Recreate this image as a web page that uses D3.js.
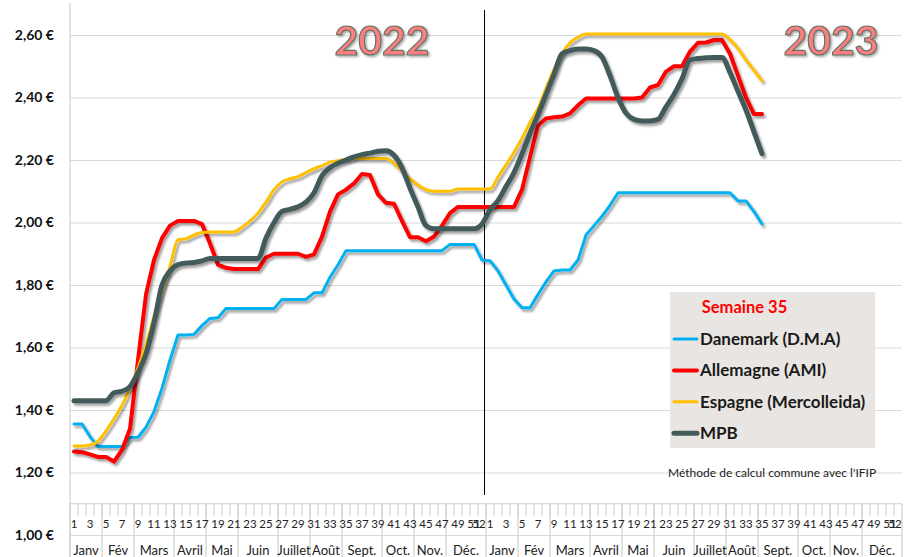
<!DOCTYPE html>
<html><head><meta charset="utf-8">
<script src="https://cdn.jsdelivr.net/npm/d3@7"></script>
<style>
body{margin:0;background:#fff;}
svg{display:block;font-family:Lato,"Open Sans",sans-serif;}
</style></head>
<body><svg id="c" width="914" height="557"></svg>
<script>
// ---- data ----
const years = ["2022", "2023"];
const weekNums = [1,2,3,4,5,6,7,8,9,10,11,12,13,14,15,16,17,18,19,20,21,22,23,24,25,26,27,28,29,30,31,32,33,34,35,36,37,38,39,40,41,42,43,44,45,46,47,48,49,50,51,52];
const weekLabels = [1,3,5,7,9,11,13,15,17,19,21,23,25,27,29,31,33,35,37,39,41,43,45,47,49,51,52];
const months = ["Janv","Fév","Mars","Avril","Mai","Juin","Juillet","Août","Sept.","Oct.","Nov.","Déc."];
const monthWeeks = [4,4,5,4,4,5,4,4,5,4,4,5];
const yTicks = [1.00,1.20,1.40,1.60,1.80,2.00,2.20,2.40,2.60];

const danemark = [1.355,1.355,1.315,1.283,1.283,1.283,1.283,1.312,1.313,1.345,1.395,1.47,1.56,1.64,1.64,1.642,1.67,1.693,1.695,1.725,
 1.725,1.725,1.725,1.725,1.725,1.725,1.754,1.754,1.754,1.754,1.775,1.775,1.825,1.865,1.91,1.91,1.91,1.91,1.91,1.91,
 1.91,1.91,1.91,1.91,1.91,1.91,1.91,1.93,1.93,1.93,1.93,1.88,
 1.878,1.845,1.80,1.755,1.727,1.727,1.77,1.81,1.845,1.848,1.848,1.88,1.96,1.99,2.02,2.055,2.095,2.095,2.095,2.095,
 2.095,2.095,2.095,2.095,2.095,2.095,2.095,2.095,2.095,2.095,2.095,2.069,2.069,2.035,1.995];
const allemagne = [1.267,1.265,1.258,1.25,1.25,1.235,1.272,1.34,1.56,1.77,1.88,1.95,1.99,2.005,2.005,2.005,1.995,1.933,1.865,1.855,
 1.851,1.851,1.851,1.851,1.888,1.90,1.90,1.90,1.90,1.89,1.898,1.955,2.035,2.09,2.105,2.125,2.155,2.152,2.09,2.063,
 2.06,2.005,1.953,1.953,1.94,1.955,1.99,2.03,2.05,2.05,2.05,2.05,
 2.05,2.05,2.05,2.05,2.105,2.21,2.31,2.333,2.337,2.339,2.349,2.375,2.397,2.397,2.397,2.397,2.397,2.397,2.397,2.40,
 2.432,2.44,2.483,2.50,2.50,2.547,2.575,2.576,2.584,2.584,2.54,2.47,2.40,2.347,2.347];
const espagne = [1.285,1.285,1.288,1.30,1.333,1.372,1.415,1.47,1.535,1.61,1.70,1.78,1.86,1.945,1.948,1.96,1.968,1.97,1.97,1.97,
 1.97,1.985,2.005,2.03,2.065,2.105,2.13,2.14,2.147,2.16,2.172,2.182,2.193,2.198,2.202,2.205,2.205,2.205,2.205,2.205,
 2.19,2.165,2.14,2.12,2.105,2.10,2.10,2.10,2.107,2.107,2.107,2.107,
 2.107,2.145,2.185,2.225,2.27,2.32,2.365,2.43,2.49,2.54,2.575,2.593,2.603,2.603,2.603,2.603,2.603,2.603,2.603,2.603,
 2.603,2.603,2.603,2.603,2.603,2.603,2.603,2.603,2.603,2.603,2.585,2.557,2.52,2.487,2.454];
const mpb = [1.43,1.43,1.43,1.43,1.43,1.455,1.46,1.475,1.52,1.58,1.68,1.80,1.845,1.865,1.87,1.872,1.877,1.885,1.885,1.885,
 1.885,1.885,1.885,1.885,1.95,2.00,2.035,2.042,2.05,2.065,2.095,2.15,2.175,2.19,2.20,2.21,2.217,2.222,2.228,2.23,
 2.215,2.175,2.11,2.05,1.99,1.98,1.98,1.98,1.98,1.98,1.98,1.995,
 2.04,2.07,2.115,2.16,2.22,2.285,2.345,2.41,2.475,2.54,2.55,2.555,2.555,2.55,2.53,2.47,2.40,2.35,2.33,2.325,
 2.325,2.33,2.37,2.41,2.46,2.52,2.525,2.527,2.528,2.528,2.48,2.42,2.36,2.29,2.22];

const seriesNames = ["Danemark (D.M.A)","Allemagne (AMI)","Espagne (Mercolleida)","MPB"];
const seriesColors = ["#00b0f0","#ff0000","#ffc000","#435a5a"];
const seriesWidths = [3,4,3,5];
const seriesData = [danemark, allemagne, espagne, mpb];
const seriesSmooth = [false,false,true,true];

// ---- chart ----
const svg = d3.select("#c");
const cats = [];
years.forEach(yr => weekNums.forEach(w => cats.push(yr + "-" + w)));
const x = d3.scaleBand().domain(cats).range([70, 902]).padding(0);
const y = d3.scaleLinear().domain([1.0, 2.6]).range([535, 35]);
const xc = k => x(k) + x.bandwidth() / 2;
const left = 70, right = 902, axisY = y(1.10), bottom = 557;

const defs = svg.append("defs");
const f = defs.append("filter").attr("id","sh").attr("x","-5%").attr("y","-5%").attr("width","110%").attr("height","120%");
f.append("feDropShadow").attr("dx",2).attr("dy",2.5).attr("stdDeviation",1.3).attr("flood-color","#000").attr("flood-opacity",0.38);
const f2 = defs.append("filter").attr("id","tsh").attr("x","-10%").attr("y","-10%").attr("width","130%").attr("height","140%");
f2.append("feDropShadow").attr("dx",1.5).attr("dy",1.5).attr("stdDeviation",1).attr("flood-color","#000").attr("flood-opacity",0.35);

// gridlines + y labels
const yAxis = d3.axisLeft(y).tickValues(yTicks).tickSizeInner(-(right-left)).tickSizeOuter(0).tickPadding(16)
  .tickFormat(d => d3.format(".2f")(d).replace(".", ",") + " €");
const ga = svg.append("g").attr("transform", `translate(${left},0)`).call(yAxis);
ga.select(".domain").remove();
ga.selectAll(".tick line").attr("stroke","#d9d9d9").attr("stroke-width",1.2);
ga.selectAll(".tick text").attr("fill","#111").attr("font-size",14).attr("font-weight","bold").attr("font-family","Lato");

// vertical axis line
svg.append("line").attr("x1",left).attr("x2",left).attr("y1",3).attr("y2",bottom).attr("stroke","#d0d0d0").attr("stroke-width",1.2);
// horizontal axis line at 1.10
svg.append("line").attr("x1",left).attr("x2",right).attr("y1",axisY).attr("y2",axisY).attr("stroke","#d0d0d0").attr("stroke-width",1.2);
// minor ticks per week
svg.append("g").selectAll("line").data(cats.slice(1)).join("line")
  .attr("x1", d => x(d)).attr("x2", d => x(d)).attr("y1", axisY).attr("y2", axisY + 13)
  .attr("stroke","#d0d0d0").attr("stroke-width",1);
// month boundaries
const monthStarts = [];
years.forEach(yr => { let w = 1; monthWeeks.forEach((n, i) => { monthStarts.push({yr, name: months[i], start: w, end: w + n - 1}); w += n; }); });
svg.append("g").selectAll("line").data(monthStarts).join("line")
  .attr("x1", d => x(d.yr + "-" + d.start)).attr("x2", d => x(d.yr + "-" + d.start))
  .attr("y1", axisY).attr("y2", bottom).attr("stroke","#d0d0d0").attr("stroke-width",1.2);
svg.append("line").attr("x1",right).attr("x2",right).attr("y1",axisY).attr("y2",bottom).attr("stroke","#d0d0d0").attr("stroke-width",1.2);
// week labels
const wl = [];
years.forEach(yr => weekLabels.forEach(w => wl.push({yr, w})));
svg.append("g").selectAll("text").data(wl).join("text")
  .attr("x", d => xc(d.yr + "-" + d.w) - (d.w === 52 ? 3 : 0)).attr("y", 527.5)
  .attr("text-anchor","middle").attr("font-size",11.5).attr("fill","#222").text(d => d.w);
// month labels
svg.append("g").selectAll("text").data(monthStarts).join("text")
  .attr("x", d => (x(d.yr + "-" + d.start) + x(d.yr + "-" + d.end) + x.bandwidth()) / 2).attr("y", 554.5)
  .attr("text-anchor","middle").attr("font-size",13).attr("fill","#222").text(d => d.name);

// year divider
svg.append("line").attr("x1", x("2023-1") - 1.5).attr("x2", x("2023-1") - 1.5).attr("y1",10).attr("y2",495)
  .attr("stroke","#000").attr("stroke-width",1);

// lines
seriesData.forEach((data, i) => {
  const line = d3.line().x((d, j) => xc(cats[j])).y(d => y(d))
    .curve(seriesSmooth[i] ? d3.curveMonotoneX : d3.curveLinear);
  svg.append("path").datum(data).attr("d", line).attr("fill","none")
    .attr("stroke", seriesColors[i]).attr("stroke-width", seriesWidths[i])
    .attr("stroke-linejoin","round").attr("stroke-linecap","round").attr("filter","url(#sh)");
});

// year labels
[["2022", xc("2022-35") + 36], ["2023", xc("2023-42") + 13]].forEach(([t, px]) => {
  svg.append("text").attr("x", px).attr("y", 55).attr("text-anchor","middle")
    .attr("font-size", 41).attr("font-weight","bold").attr("font-family","Lato")
    .attr("fill","#ff7c80").attr("stroke","#5e7564").attr("stroke-width",1.2).attr("filter","url(#tsh)").text(t);
});

// legend
const lg = svg.append("g");
lg.append("rect").attr("x",670).attr("y",292).attr("width",205).attr("height",156).attr("fill","#e8e5e2");
lg.append("text").attr("x",744.5).attr("y",313).attr("text-anchor","middle").attr("font-size",16.5)
  .attr("font-weight","bold").attr("fill","#ff0000").text("Semaine 35");
seriesNames.forEach((n, i) => {
  const yy = 339 + i * 31.4;
  lg.append("line").attr("x1",674).attr("x2",697).attr("y1",yy).attr("y2",yy)
    .attr("stroke",seriesColors[i]).attr("stroke-width",seriesWidths[i]).attr("stroke-linecap","round");
  lg.append("text").attr("x",700).attr("y",yy + 6).attr("font-size",17).attr("font-weight","bold")
    .attr("fill","#1a1a1a").text(n);
});
svg.append("text").attr("x",668).attr("y",477).attr("font-size",12).attr("fill","#222")
  .text("Méthode de calcul commune avec l'IFIP");
</script></body></html>
